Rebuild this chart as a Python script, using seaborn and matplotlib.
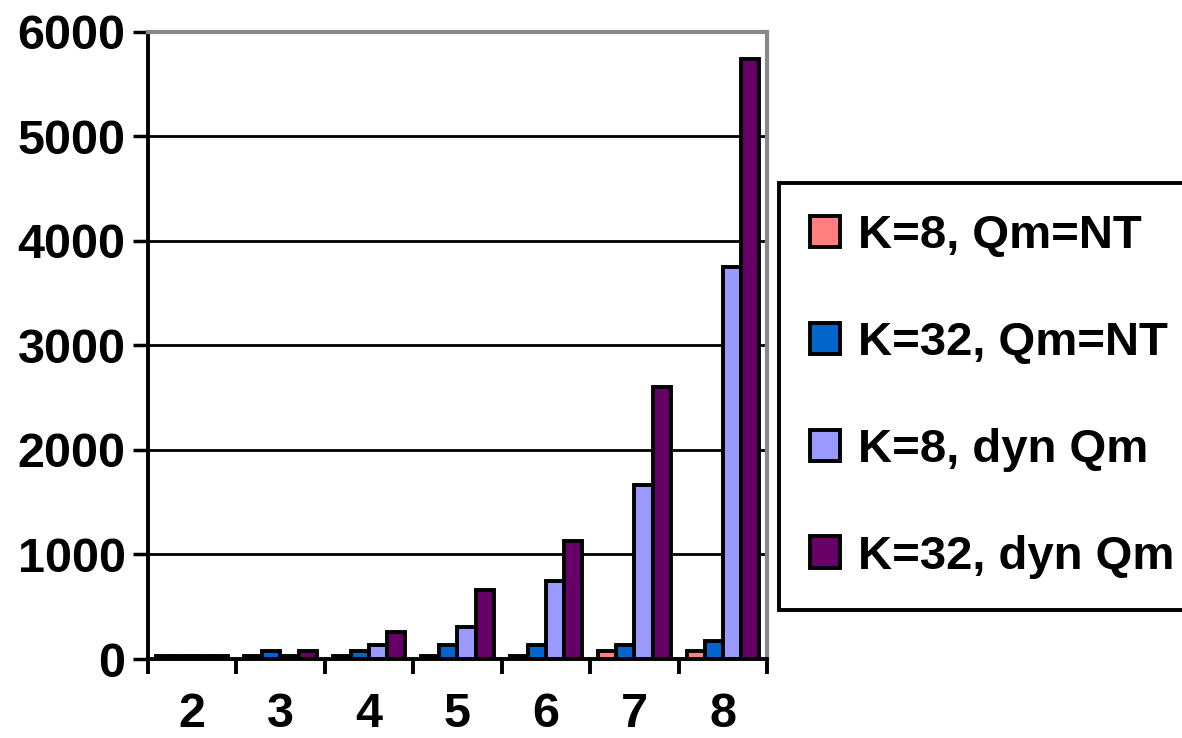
import numpy as np
import pandas as pd
import matplotlib
matplotlib.use("Agg")
import matplotlib.pyplot as plt
import seaborn as sns
from matplotlib.ticker import FixedLocator

categories = ["2", "3", "4", "5", "6", "7", "8"]
series_names = ["K=8, Qm=NT", "K=32, Qm=NT", "K=8, dyn Qm", "K=32, dyn Qm"]
k8_nt = [25, 33, 33, 33, 33, 77, 77]
k32_nt = [30, 80, 80, 135, 135, 135, 168]
k8_dyn = [30, 33, 135, 305, 742, 1665, 3750]
k32_dyn = [30, 80, 260, 660, 1130, 2600, 5740]
colors = ["#FF8080", "#0066CC", "#9999FF", "#660066"]
y_ticks = [0, 1000, 2000, 3000, 4000, 5000, 6000]

sns.set_theme(style="white")
plt.rcParams["font.family"] = ["Liberation Sans", "DejaVu Sans"]
plt.rcParams["font.weight"] = "bold"
plt.rcParams["text.color"] = "black"
plt.rcParams["xtick.color"] = "black"
plt.rcParams["ytick.color"] = "black"

rows = []
for name, vals in zip(series_names, [k8_nt, k32_nt, k8_dyn, k32_dyn]):
    for c, v in zip(categories, vals):
        rows.append({"n": c, "value": v, "series": name})
df = pd.DataFrame(rows)

fig = plt.figure(figsize=(11.82, 7.38), dpi=100)
ax = fig.add_axes([0.125, 0.107, 0.524, 0.85])

ax.yaxis.grid(True, color="black", linewidth=2.0)
ax.set_axisbelow(True)

sns.barplot(data=df, x="n", y="value", hue="series", order=categories,
            hue_order=series_names, palette=colors, width=0.82,
            edgecolor="black", linewidth=2.8, saturation=1, ax=ax, legend=True)

ax.set_ylim(0, 6000)
ax.set_xlim(-0.5, 6.5)
ax.set_yticks(y_ticks)
ax.set_yticklabels([str(t) for t in y_ticks], fontsize=35, fontweight="bold", color="black")
ax.set_xticks(range(len(categories)))
ax.set_xticklabels(categories, fontsize=35, fontweight="bold", color="black")
ax.xaxis.set_minor_locator(FixedLocator(np.arange(-0.5, 7.0, 1.0)))
ax.tick_params(axis="x", which="major", length=0, pad=24)
ax.tick_params(axis="x", which="minor", length=11, width=2.8, color="black", direction="out", bottom=True)
ax.tick_params(axis="y", which="major", length=11, width=2.5, color="black", direction="out", left=True, pad=5)
ax.set_xlabel("")
ax.set_ylabel("")

for side in ["left", "bottom"]:
    ax.spines[side].set_color("black")
    ax.spines[side].set_linewidth(2.8)
for side in ["top", "right"]:
    ax.spines[side].set_color("#888888")
    ax.spines[side].set_linewidth(3)

handles, labels = ax.get_legend_handles_labels()
leg = fig.legend(handles, labels, loc="upper left", bbox_to_anchor=(779 / 1182, 1 - 183 / 738),
                 frameon=True, fancybox=False, edgecolor="black", framealpha=1,
                 prop={"size": 34, "weight": "bold"}, handlelength=0.64, handleheight=0.64,
                 handletextpad=0.38, labelspacing=1.33, borderpad=0.66, borderaxespad=0)
leg.get_frame().set_linewidth(2.8)
leg.get_frame().set_edgecolor("black")
ax.get_legend().remove()

fig.savefig("out.png", dpi=100)
